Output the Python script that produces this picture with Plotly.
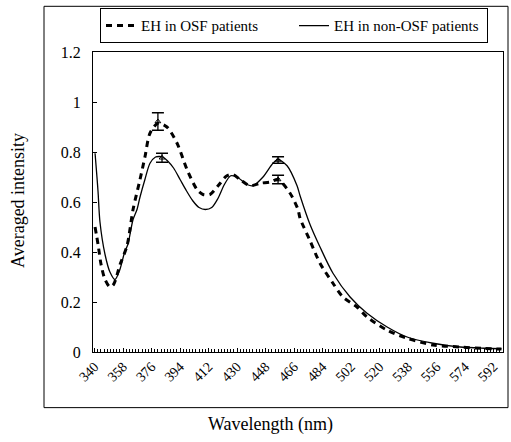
import plotly.graph_objects as go

# Data
wl_non = [340.3, 341.5, 342.2, 343.4, 346.6, 349.7, 352.9, 356.0, 359.0, 361.0, 364.3, 366.8,
          368.7, 371.8, 375.0, 378.5, 381.0, 383.0, 386.0, 390.0, 394.0, 398.0, 402.0, 406.0,
          410.0, 414.0, 418.0, 422.0, 426.0, 430.0, 436.3, 440.1, 446.4, 452.7, 455.9, 461.6,
          467.9, 469.8, 476.1, 482.4, 490.6, 501.4, 512.1, 524.8, 537.4, 553.8, 570.9, 586.0, 597.0]
int_non = [0.795, 0.70, 0.64, 0.52, 0.39, 0.32, 0.29, 0.33, 0.40, 0.43, 0.53, 0.57,
           0.62, 0.69, 0.755, 0.78, 0.782, 0.78, 0.765, 0.735, 0.69, 0.645, 0.605, 0.578,
           0.570, 0.578, 0.615, 0.67, 0.705, 0.70, 0.67, 0.665, 0.70, 0.755, 0.77, 0.745,
           0.665, 0.625, 0.51, 0.42, 0.315, 0.22, 0.155, 0.10, 0.06, 0.035, 0.02, 0.015, 0.013]

wl_osf = [340.3, 342.2, 344.1, 346.6, 349.7, 352.0, 356.1, 360.5, 364.3, 368.7, 371.8, 375.0,
          380.0, 385.7, 392.1, 398.4, 404.7, 408.5, 412.9, 418.0, 423.6, 427.4, 431.9, 438.2,
          444.5, 450.8, 455.9, 463.5, 468.5, 469.8, 476.1, 482.4, 490.6, 496.9, 505.8, 512.1,
          524.8, 537.4, 553.8, 570.9, 586.0, 597.0]
int_osf = [0.50, 0.43, 0.35, 0.29, 0.26, 0.27, 0.35, 0.425, 0.57, 0.69, 0.78, 0.875,
           0.915, 0.90, 0.835, 0.73, 0.65, 0.63, 0.63, 0.665, 0.705, 0.71, 0.69, 0.665,
           0.675, 0.68, 0.69, 0.635, 0.57, 0.535, 0.445, 0.355, 0.275, 0.22, 0.18, 0.14,
           0.087, 0.055, 0.028, 0.02, 0.014, 0.012]

err_osf_x = [380.0, 455.9]
err_osf_y = [0.922, 0.69]
err_osf_e = [0.035, 0.017]
err_non_x = [382.6, 455.9]
err_non_y = [0.777, 0.768]
err_non_e = [0.018, 0.013]

tick_vals = list(range(340, 593, 18))
y_ticks = [0, 0.2, 0.4, 0.6, 0.8, 1.0, 1.2]
y_tick_text = ["0", "0.2", "0.4", "0.6", "0.8", "1", "1.2"]

SERIF = "'Liberation Serif', 'DejaVu Serif', serif"

fig = go.Figure()
fig.add_trace(go.Scatter(x=wl_osf, y=int_osf, mode="lines", name="EH in OSF patients",
                         line=dict(color="black", width=3, dash="6px,5px", shape="spline", smoothing=0.8)))
fig.add_trace(go.Scatter(x=wl_non, y=int_non, mode="lines", name="EH in non-OSF patients",
                         line=dict(color="black", width=1.3, shape="spline", smoothing=0.8)))
fig.add_trace(go.Scatter(x=err_osf_x, y=err_osf_y, mode="markers", showlegend=False,
                         marker=dict(color="black", size=5, symbol="triangle-up-open"),
                         error_y=dict(type="data", array=err_osf_e, color="black", thickness=1.3, width=6)))
fig.add_trace(go.Scatter(x=err_non_x, y=err_non_y, mode="markers", showlegend=False,
                         marker=dict(color="black", size=5, symbol="triangle-up-open"),
                         error_y=dict(type="data", array=err_non_e, color="black", thickness=1.3, width=6)))

L, R, T, B = 93, 8, 50, 90
W, H = 511, 442
pw, ph = W - L - R, H - T - B

def px_x(px):
    return (px - L) / pw

def px_y(py):
    return (H - B - py) / ph

fig.update_layout(
    width=W, height=H,
    margin=dict(l=L, r=R, t=T, b=B),
    paper_bgcolor="white", plot_bgcolor="white",
    font=dict(family=SERIF, color="black", size=14),
    showlegend=True,
    legend=dict(orientation="h", x=px_x(100), y=px_y(6), xanchor="left", yanchor="top",
                bordercolor="black", borderwidth=1, bgcolor="white",
                font=dict(family=SERIF, size=15), itemwidth=30,
                tracegroupgap=0, entrywidth=148),
    xaxis=dict(range=[339, 598], showgrid=False, zeroline=False,
               showline=True, linecolor="black", linewidth=1, mirror=True,
               tickmode="array", tickvals=tick_vals, ticktext=[str(v) for v in tick_vals],
               tickangle=-45, ticks="inside", ticklen=4, tickcolor="black",
               tickfont=dict(family=SERIF, size=14),
               minor=dict(dtick=2, tick0=340, ticks="inside", ticklen=3, tickcolor="black", showgrid=False)),
    yaxis=dict(range=[0, 1.2], showgrid=False, zeroline=False,
               showline=True, linecolor="black", linewidth=1, mirror=True,
               tickmode="array", tickvals=y_ticks, ticktext=y_tick_text,
               ticks="inside", ticklen=4, tickcolor="black", ticklabelstandoff=8,
               tickfont=dict(family=SERIF, size=16)),
    shapes=[dict(type="rect", xref="paper", yref="paper",
                 x0=px_x(44), x1=px_x(508), y0=px_y(408), y1=px_y(4),
                 line=dict(color="black", width=1), layer="below")],
    annotations=[
        dict(text="Averaged intensity", xref="paper", yref="paper", x=px_x(18), y=px_y(200),
             textangle=-90, showarrow=False, font=dict(family=SERIF, size=18),
             xanchor="center", yanchor="middle"),
        dict(text="Wavelength (nm)", xref="paper", yref="paper", x=px_x(270), y=px_y(425),
             showarrow=False, font=dict(family=SERIF, size=18),
             xanchor="center", yanchor="middle"),
    ],
)

fig.write_html("out.html")
